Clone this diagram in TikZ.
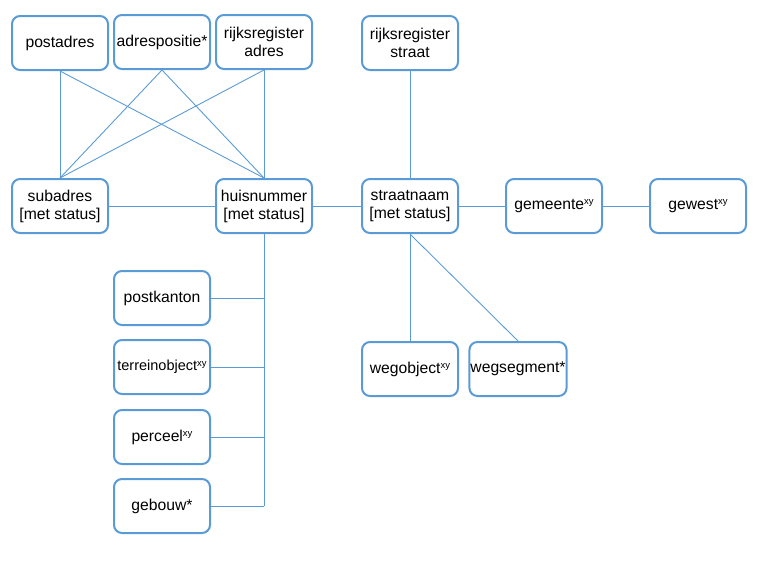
\documentclass[tikz,border=0pt]{standalone}
\usepackage{fontspec}
\setmainfont{Liberation Sans}
\definecolor{bl}{HTML}{5B9BD5}
\newcommand{\xysup}{\raisebox{0.55ex}{\fontsize{9.5}{9.5}\selectfont xy}}
\begin{document}
\begin{tikzpicture}[x=1pt,y=-1pt,
  box/.style={draw=bl,line width=2pt,rounded corners=8pt,minimum width=96pt,minimum height=54pt,inner sep=1pt,align=center,font=\fontsize{15.7}{18}\selectfont,text=black},
  link/.style={draw=bl,line width=0.9pt}]
\useasboundingbox (0,0) rectangle (766,563);
\node[box] (postadres) at (60,43) {postadres};
\node[box] (adrespositie) at (162,42) {adrespositie*};
\node[box] (rradres) at (264,42) {rijksregister\\adres};
\node[box] (subadres) at (60,206) {subadres\\{[met status]}};
\node[box] (huisnummer) at (264,206) {huisnummer\\{[met status]}};
\node[box] (rrstraat) at (410,43) {rijksregister\\straat};
\node[box] (straatnaam) at (410,206) {straatnaam\\{[met status]}};
\node[box] (gemeente) at (554,206) {gemeente\xysup};
\node[box] (gewest) at (698,206) {gewest\xysup};
\node[box] (postkanton) at (162,298) {postkanton};
\node[box,font=\fontsize{14.5}{17}\selectfont] (terrein) at (162,367) {terreinobject\xysup};
\node[box] (perceel) at (162,437) {perceel\xysup};
\node[box] (gebouw) at (162,506) {gebouw*};
\node[box] (wegobject) at (410,369) {wegobject\xysup};
\node[box] (wegsegment) at (518,369) {wegsegment*};
\coordinate (hbot) at (264,506);
% top connections
\draw[link] (postadres.south) -- (subadres.north);
\draw[link] (postadres.south) -- (huisnummer.north);
\draw[link] (adrespositie.south) -- (subadres.north);
\draw[link] (adrespositie.south) -- (huisnummer.north);
\draw[link] (rradres.south) -- (subadres.north);
\draw[link] (rradres.south) -- (huisnummer.north);
% horizontal chain
\draw[link] (subadres.east) -- (huisnummer.west);
\draw[link] (huisnummer.east) -- (straatnaam.west);
\draw[link] (straatnaam.east) -- (gemeente.west);
\draw[link] (gemeente.east) -- (gewest.west);
\draw[link] (rrstraat.south) -- (straatnaam.north);
\draw[link] (straatnaam.south) -- (wegobject.north);
\draw[link] (straatnaam.south) -- (wegsegment.north);
% huisnummer tree
\draw[link] (huisnummer.south) -- (hbot);
\draw[link] (postkanton.east) -- (postkanton.east -| hbot);
\draw[link] (terrein.east) -- (terrein.east -| hbot);
\draw[link] (perceel.east) -- (perceel.east -| hbot);
\draw[link] (gebouw.east) -- (hbot);
\end{tikzpicture}
\end{document}
